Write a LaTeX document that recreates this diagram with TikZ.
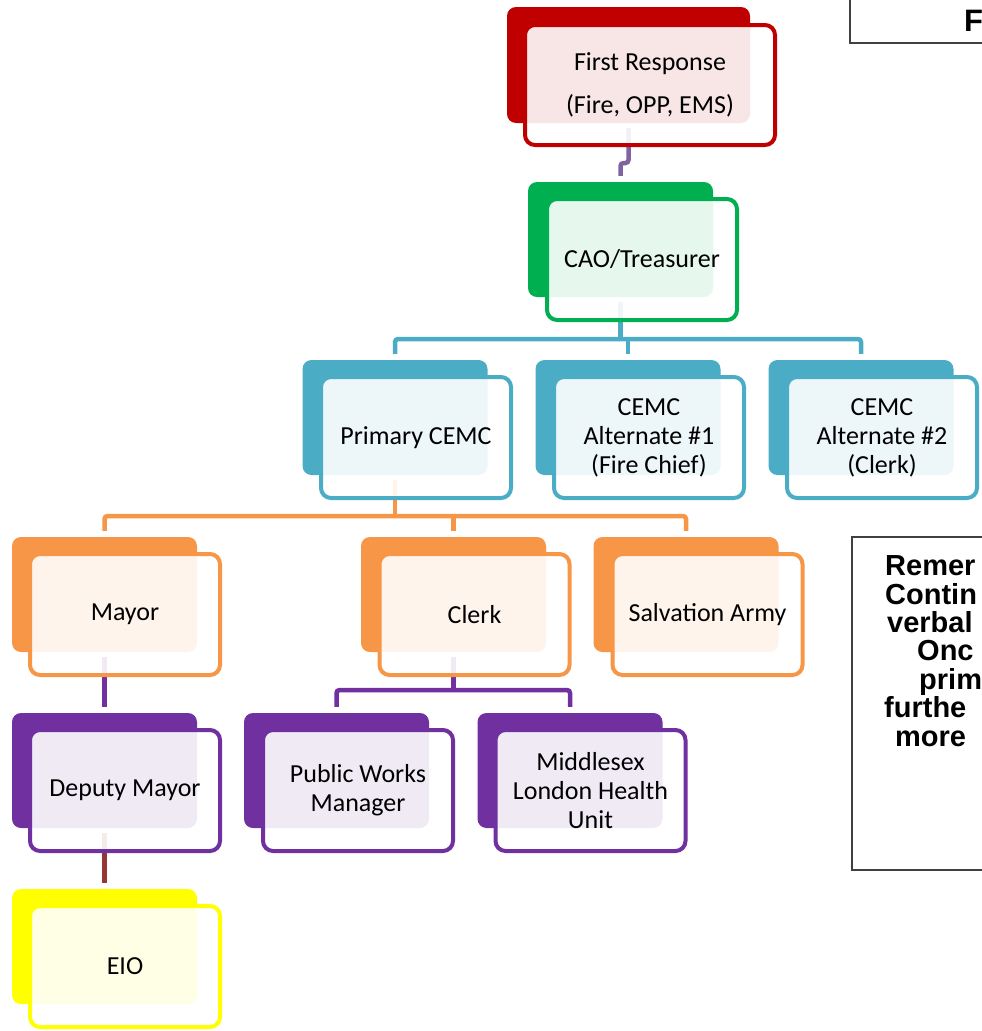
\documentclass[tikz,border=0pt]{standalone}
\usepackage{fontspec}
\setmainfont{Carlito}
\newfontfamily\arialfont{Liberation Sans}
\usetikzlibrary{calc}
\definecolor{cred}{HTML}{C00000}
\definecolor{cgreen}{HTML}{00B050}
\definecolor{cblue}{HTML}{4BACC6}
\definecolor{corange}{HTML}{F79646}
\definecolor{cpurple}{HTML}{7030A0}
\definecolor{cyellow}{HTML}{FFFF00}
\definecolor{clav}{HTML}{8064A2}
\definecolor{cbrown}{HTML}{953735}
\definecolor{cframe}{HTML}{404040}
\begin{document}
\begin{tikzpicture}[x=1pt,y=-1pt,
  backbox/.style={fill=#1, draw=none, rounded corners=9pt, inner sep=0pt,
    minimum width=185pt, minimum height=115pt},
  frontbox/.style={draw=#1, line width=4pt, fill=white, fill opacity=0.9,
    text opacity=1, rounded corners=10pt, inner sep=0pt,
    minimum width=190pt, minimum height=121pt, align=center,
    font=\fontsize{26}{29}\selectfont},
  conn/.style={draw=#1, line width=4.5pt, rounded corners=3pt},
  notetext/.style={anchor=base west, inner sep=0pt,
    font=\arialfont\bfseries\fontsize{29}{29}\selectfont},
  frame/.style={draw=cframe, line width=1.5pt}]
\useasboundingbox (0,0) rectangle (982,1031);
\clip (0,0) rectangle (982,1031);

% back boxes
\node[backbox=cred, minimum width=243pt, minimum height=116pt] (frb) at (628.5,65) {};
\node[backbox=cgreen] (caob) at (620.5,239.5) {};
\node[backbox=cblue] (pcb) at (395,417.5) {};
\node[backbox=cblue] (a1b) at (628,417.5) {};
\node[backbox=cblue] (a2b) at (861,417.5) {};
\node[backbox=corange] (myb) at (104.5,594.5) {};
\node[backbox=corange] (clb) at (453.5,594.5) {};
\node[backbox=corange] (sab) at (686,594.5) {};
\node[backbox=cpurple] (dmb) at (104.5,770.5) {};
\node[backbox=cpurple] (pwb) at (336.5,770.5) {};
\node[backbox=cpurple] (mlb) at (570,770.5) {};
\node[backbox=cyellow] (eiob) at (104.5,946.5) {};

% connectors
\coordinate (frs) at ($(frb.south)+(0,5)$);
\coordinate (caon) at ($(caob.north)+(0,-6)$);
\coordinate (jog) at (0,163);
\draw[conn=clav] (frs) -- (frs |- jog) -- (caon |- jog) -- (caon);

\coordinate (bbus) at (0,339);
\coordinate (caos) at ($(caob.south)+(0,5)$);
\coordinate (pcn) at ($(pcb.north)+(0,-6)$);
\coordinate (a1n) at ($(a1b.north)+(0,-6)$);
\coordinate (a2n) at ($(a2b.north)+(0,-6)$);
\draw[conn=cblue] (pcn) |- (a2n |- bbus) -- (a2n);
\draw[conn=cblue] (a1n) -- (a1n |- bbus);
\draw[conn=cblue] (caos) -- (caos |- bbus);

\coordinate (obus) at (0,516);
\coordinate (pcs) at ($(pcb.south)+(0,5)$);
\coordinate (myn) at ($(myb.north)+(0,-6)$);
\coordinate (cln) at ($(clb.north)+(0,-6)$);
\coordinate (san) at ($(sab.north)+(0,-6)$);
\draw[conn=corange] (myn) |- (san |- obus) -- (san);
\draw[conn=corange] (cln) -- (cln |- obus);
\draw[conn=corange] (pcs) -- (pcs |- obus);

\coordinate (mys) at ($(myb.south)+(0,5)$);
\coordinate (dmn) at ($(dmb.north)+(0,-6)$);
\draw[conn=cpurple] (mys) -- (dmn);

\coordinate (pbus) at (0,690);
\coordinate (cls) at ($(clb.south)+(0,5)$);
\coordinate (pwn) at ($(pwb.north)+(0,-6)$);
\coordinate (mln) at ($(mlb.north)+(0,-6)$);
\draw[conn=cpurple] (pwn) |- (mln |- pbus) -- (mln);
\draw[conn=cpurple] (cls) -- (cls |- pbus);

\coordinate (dms) at ($(dmb.south)+(0,5)$);
\coordinate (eion) at ($(eiob.north)+(0,-6)$);
\draw[conn=cbrown] (dms) -- (eion);

% front boxes
\node[frontbox=cred, minimum width=250pt, minimum height=120pt] (fr) at (650,85)
  {First Response\\[14pt](Fire, OPP, EMS)};
\node[frontbox=cgreen] (cao) at (642,259.5) {CAO/Treasurer};
\node[frontbox=cblue] (pc) at (416,437.5) {Primary CEMC};
\node[frontbox=cblue] (a1) at (649,437.5) {CEMC\\Alternate \#1\\(Fire Chief)};
\node[frontbox=cblue] (a2) at (882,437.5) {CEMC\\Alternate \#2\\(Clerk)};
\node[frontbox=corange] (my) at (125,614.5) {Mayor};
\node[frontbox=corange] (cl) at (474.5,614.5) {Clerk};
\node[frontbox=corange] (sa) at (707.5,614.5) {Salvation Army};
\node[frontbox=cpurple] (dm) at (125,790.5) {Deputy Mayor};
\node[frontbox=cpurple] (pw) at (358,790.5) {Public Works\\Manager};
\node[frontbox=cpurple] (ml) at (590.5,790.5) {Middlesex\\London Health\\Unit};
\node[frontbox=cyellow] (eio) at (125,966.5) {EIO};

% side frames and texts
\draw[frame] (1000,-10) -- (850,-10) -- (850,43) -- (1000,43);
\node[notetext, font=\arialfont\bfseries\fontsize{31}{36}\selectfont] (ttl) at (964,31) {F};
\draw[frame] (1000,537) -- (852,537) -- (852,870) -- (1000,870);
\node[notetext] (n1) at (885,575) {Remer};
\node[notetext] (n2) at (885,604) {Contin};
\node[notetext] (n3) at (887,632) {verbal};
\node[notetext] (n4) at (917,660) {Onc};
\node[notetext] (n5) at (919,689) {prim};
\node[notetext] (n6) at (884,717) {furthe};
\node[notetext] (n7) at (895,746) {more};
\end{tikzpicture}
\end{document}
